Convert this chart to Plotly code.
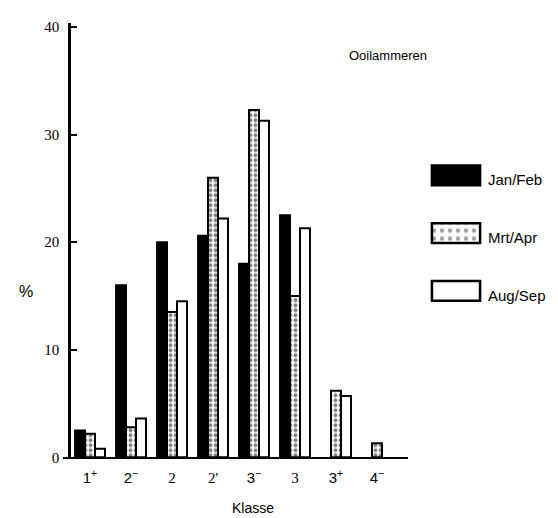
import plotly.graph_objects as go

# ---------------- data ----------------
categories = ["1+", "2-", "2", "2'", "3-", "3", "3+", "4-"]
tick_labels = ["1<sup>+</sup>", "2<sup>\u2212</sup>",
               "<span style='font-family:Liberation Serif'>2</span>",
               "<span style='font-family:Liberation Serif'>2'</span>",
               "3<sup>\u2212</sup>",
               "<span style='font-family:Liberation Serif'>3</span>",
               "3<sup>+</sup>", "4<sup>\u2212</sup>"]
series_names = ["Jan/Feb", "Mrt/Apr", "Aug/Sep"]
jan_feb = [2.5, 16.0, 20.0, 20.6, 18.0, 22.5, None, None]
mrt_apr = [2.2, 2.8, 13.5, 26.0, 32.3, 15.0, 6.2, 1.3]
aug_sep = [0.8, 3.6, 14.5, 22.2, 31.3, 21.3, 5.7, None]
y_ticks = [0, 10, 20, 30, 40]

W, H = 558, 518


def px(x):
    return x / W


def py(y):
    return (H - y) / H


fig = go.Figure()

fills = [
    dict(color="black", line=dict(color="black", width=2)),
    dict(color="white", line=dict(color="black", width=2),
         pattern=dict(shape=".", fgcolor="black", bgcolor="white", size=5, solidity=0.45)),
    dict(color="white", line=dict(color="black", width=2)),
]
for name, vals, mk in zip(series_names, [jan_feb, mrt_apr, aug_sep], fills):
    fig.add_trace(go.Bar(x=categories, y=vals, name=name, marker=mk,
                         showlegend=False, xaxis="x", yaxis="y"))

# legend swatches drawn as bars on a small auxiliary axis
fig.add_trace(go.Bar(
    x=[1, 1, 1], y=[2, 1, 0], base=0, orientation="h", width=0.34,
    marker=dict(color=["black", "white", "white"],
                line=dict(color="black", width=2.5),
                pattern=dict(shape=["", ".", ""], fgcolor="black",
                             bgcolor="white", size=8, solidity=0.25)),
    showlegend=False, hoverinfo="skip", xaxis="x2", yaxis="y2"))

annotations = []
for i, name in enumerate(series_names):
    annotations.append(dict(
        x=px(478), y=py([172, 231, 291][i]), xref="paper", yref="paper",
        text=name, showarrow=False, xanchor="left", yanchor="middle",
        font=dict(family="Liberation Sans", size=15, color="black")))
annotations += [
    dict(x=px(339), y=py(45), xref="paper", yref="paper", text="Ooilammeren",
         showarrow=False, xanchor="left", yanchor="middle",
         font=dict(family="Liberation Sans", size=13, color="black")),
    dict(x=px(18), y=py(287), xref="paper", yref="paper", text="%",
         showarrow=False, xanchor="center", yanchor="middle",
         font=dict(family="Liberation Sans", size=16, color="black")),
    dict(x=px(245), y=py(508), xref="paper", yref="paper", text="Klasse",
         showarrow=False, xanchor="center", yanchor="middle",
         font=dict(family="Liberation Sans", size=14, color="black")),
]

fig.update_layout(
    width=W, height=H,
    margin=dict(l=0, r=0, t=0, b=0),
    paper_bgcolor="white", plot_bgcolor="white",
    barmode="group", bargap=0.27, bargroupgap=0,
    showlegend=False,
    xaxis=dict(domain=[px(55), px(400)], range=[-0.659, 7.756],
               categoryorder="array", categoryarray=categories,
               tickvals=categories, ticktext=tick_labels,
               showline=True, linecolor="black", linewidth=2,
               ticks="", showgrid=False, zeroline=False,
               ticklabelstandoff=6,
               tickfont=dict(family="Liberation Sans", size=15, color="black"),
               anchor="y"),
    yaxis=dict(domain=[py(456), py(12)], range=[0, 40.4],
               anchor="free", position=px(61),
               tickvals=y_ticks, ticks="inside", ticklen=6, tickwidth=2,
               tickcolor="black", ticklabelstandoff=6,
               showline=True, linecolor="black", linewidth=2.5,
               showgrid=False, zeroline=False,
               tickfont=dict(family="Liberation Serif", size=15, color="black")),
    xaxis2=dict(domain=[px(422), px(474)], range=[-0.04, 1.04], visible=False,
                anchor="y2", fixedrange=True),
    yaxis2=dict(domain=[py(315.5), py(138.5)], range=[-0.5, 2.5], visible=False,
                anchor="x2", fixedrange=True),
    annotations=annotations,
)

fig.write_html("out.html")
